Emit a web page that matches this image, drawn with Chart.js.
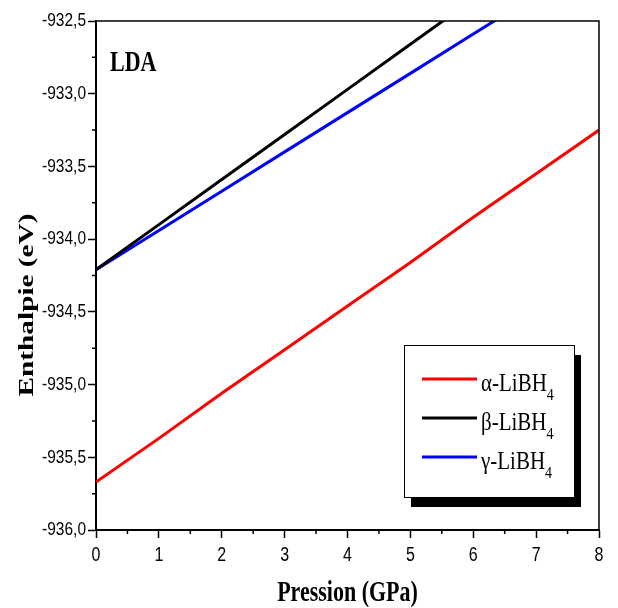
<!DOCTYPE html>
<html>
<head>
<meta charset="utf-8">
<script src="https://cdn.jsdelivr.net/npm/chart.js@4.4.0/dist/chart.umd.min.js"></script>
<style>
  html, body { margin: 0; padding: 0; background: #fff; }
</style>
</head>
<body>
<canvas id="enthalpyChart" width="618" height="608"></canvas>
<script>
// values (eV vs GPa)
const pressure = [0, 1, 2, 3, 4, 5, 6, 7, 8];
const alphaH = [-935.67, -935.37, -935.06, -934.76, -934.46, -934.16, -933.85, -933.55, -933.25];
const betaH  = [-934.21, -933.90, -933.59, -933.28, -932.97, -932.66, -932.35];
const gammaH = [-934.21, -933.94, -933.67, -933.40, -933.13, -932.86, -932.59, -932.32];
const seriesNames = ['α-LiBH', 'β-LiBH', 'γ-LiBH'];
const seriesColors = ['#ff0000', '#000000', '#0000ff'];

const serif = '"Liberation Serif", "Times New Roman", serif';
const sans = '"Liberation Sans", Arial, sans-serif';

const toPoints = (ys) => ys.map((y, i) => ({ x: pressure[i], y: y }));
const commaFmt = (v) => v.toFixed(1).replace('.', ',');

// text drawn a bit taller than wide, like the original export
function stretchText(ctx, txt, x, y, font, sy, align, base) {
    ctx.save();
    ctx.translate(x, y);
    ctx.scale(1, sy);
    ctx.font = font;
    ctx.textAlign = align || 'left';
    ctx.textBaseline = base || 'alphabetic';
    ctx.fillStyle = '#000';
    ctx.fillText(txt, 0, 0);
    ctx.restore();
}

const decorPlugin = {
    id: 'decor',
    afterDraw(chart) {
        const ctx = chart.ctx;
        const a = chart.chartArea;
        const xs = chart.scales.x;
        const ys = chart.scales.y;

        // top and right frame
        ctx.save();
        ctx.strokeStyle = '#000';
        ctx.lineWidth = 1.5;
        ctx.beginPath();
        ctx.moveTo(a.left, a.top);
        ctx.lineTo(a.right, a.top);
        ctx.lineTo(a.right, a.bottom);
        ctx.stroke();

        // minor ticks
        ctx.beginPath();
        for (let v = 0.5; v < 8; v += 1) {
            const px = xs.getPixelForValue(v);
            ctx.moveTo(px, a.bottom);
            ctx.lineTo(px, a.bottom + 4);
        }
        for (let v = -935.75; v < -932.5; v += 0.5) {
            const py = ys.getPixelForValue(v);
            ctx.moveTo(a.left, py);
            ctx.lineTo(a.left - 4, py);
        }
        ctx.stroke();
        ctx.restore();

        // tick labels
        xs.ticks.forEach(t => {
            stretchText(ctx, String(t.value), xs.getPixelForValue(t.value), 556,
                '16px ' + sans, 1.22, 'center', 'middle');
        });
        ys.ticks.forEach(t => {
            stretchText(ctx, commaFmt(t.value), 86, ys.getPixelForValue(t.value),
                '15.5px ' + sans, 1.22, 'right', 'middle');
        });

        // axis titles
        stretchText(ctx, 'Pression (GPa)', (a.left + a.right) / 2, 594,
            'bold 22px ' + serif, 1.3, 'center', 'middle');
        ctx.save();
        ctx.translate(27, 305);
        ctx.rotate(-Math.PI / 2);
        ctx.scale(1.33, 1);
        ctx.font = 'bold 22px ' + serif;
        ctx.textAlign = 'center';
        ctx.textBaseline = 'middle';
        ctx.fillStyle = '#000';
        ctx.fillText('Enthalpie (eV)', 0, 0);
        ctx.restore();

        // panel label
        stretchText(ctx, 'LDA', 110, 64, 'bold 22px ' + serif, 1.3, 'left', 'middle');

        // legend with shadow
        const lx = 404, ly = 345, lw = 170, lh = 152;
        ctx.save();
        ctx.fillStyle = '#000';
        ctx.fillRect(lx + 7, ly + 10, lw, lh);
        ctx.fillStyle = '#fff';
        ctx.fillRect(lx, ly, lw, lh);
        ctx.strokeStyle = '#000';
        ctx.lineWidth = 1;
        ctx.strokeRect(lx + 0.5, ly + 0.5, lw, lh);
        ctx.restore();

        chart.data.datasets.forEach((ds, i) => {
            const yy = 379 + i * 39;
            ctx.save();
            ctx.strokeStyle = ds.borderColor;
            ctx.lineWidth = 3;
            ctx.beginPath();
            ctx.moveTo(422, yy);
            ctx.lineTo(477, yy);
            ctx.stroke();
            ctx.restore();
            ctx.font = '21px ' + serif;
            const w = ctx.measureText(ds.label).width;
            stretchText(ctx, ds.label, 481, yy + 12, '21px ' + serif, 1.22, 'left');
            stretchText(ctx, '4', 481 + w, yy + 21, '14px ' + serif, 1.2, 'left');
        });
    }
};

const datasets = [alphaH, betaH, gammaH].map((ys, i) => ({
    label: seriesNames[i],
    data: toPoints(ys),
    borderColor: seriesColors[i],
    backgroundColor: seriesColors[i],
    borderWidth: 3,
    pointRadius: 0,
    showLine: true,
    tension: 0
}));

new Chart(document.getElementById('enthalpyChart'), {
    type: 'scatter',
    data: { datasets: datasets },
    options: {
        responsive: false,
        animation: false,
        layout: { padding: { top: 21, right: 19, left: 0, bottom: 0 } },
        plugins: {
            legend: { display: false },
            tooltip: { enabled: false }
        },
        scales: {
            x: {
                type: 'linear',
                min: 0,
                max: 8,
                ticks: { stepSize: 1, color: 'rgba(0,0,0,0)', font: { size: 15 } },
                grid: { drawOnChartArea: false, drawTicks: true, tickLength: 8, tickColor: '#000', tickWidth: 1.5 },
                border: { color: '#000', width: 2 },
                afterFit(scale) { scale.height = 78; }
            },
            y: {
                type: 'linear',
                min: -936,
                max: -932.5,
                ticks: { stepSize: 0.5, color: 'rgba(0,0,0,0)', font: { size: 15 }, callback: commaFmt },
                grid: { drawOnChartArea: false, drawTicks: true, tickLength: 8, tickColor: '#000', tickWidth: 1.5 },
                border: { color: '#000', width: 2 },
                afterFit(scale) { scale.width = 96; }
            }
        }
    },
    plugins: [decorPlugin]
});
</script>
</body>
</html>
